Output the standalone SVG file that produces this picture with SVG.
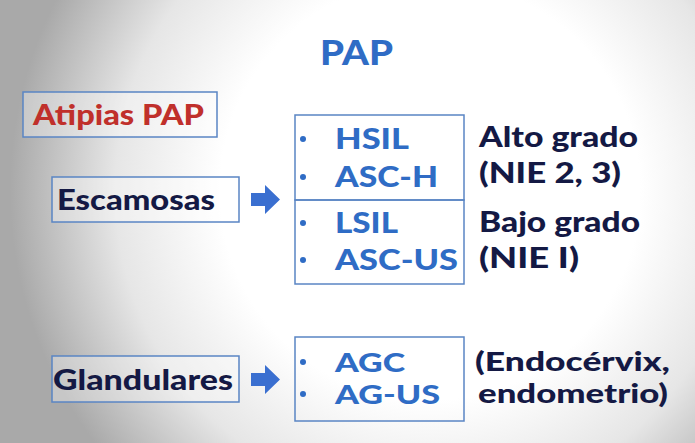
<svg xmlns="http://www.w3.org/2000/svg" width="695" height="443" viewBox="0 0 695 443">
  <defs>
    <radialGradient id="bg" cx="430" cy="190" r="420" gradientUnits="userSpaceOnUse">
      <stop offset="0" stop-color="#ffffff"/>
      <stop offset="0.5" stop-color="#ffffff"/>
      <stop offset="0.75" stop-color="#e6e6e6"/>
      <stop offset="1" stop-color="#a9a9a9"/>
    </radialGradient>
    <path id="arrow" d="M0 8 H14 V0 L29 14.5 L14 29 V21 H0 Z"/>
  </defs>
  <style>
    text { font-family: Lato, "Open Sans", "DejaVu Sans", sans-serif; font-weight: 900; }
    .box { fill: none; stroke: #5a85c4; stroke-width: 1.5; }
    .wbox { fill: #ffffff; fill-opacity: 0.35; stroke: #5a85c4; stroke-width: 1.5; }
    .blue { fill: #2f6cc5; font-size: 29px; }
    .navy { fill: #141944; font-size: 29px; }
    .red { fill: #c0302b; font-size: 29px; }
    .sm { font-size: 26.5px; }
    .dot { fill: #2f6cc5; }
    .arr { fill: #3a6fd0; }
  </style>
  <rect x="0" y="0" width="695" height="443" fill="url(#bg)"/>

  <g id="title">
    <text class="blue" x="320" y="65" style="font-size:35px" textLength="73" lengthAdjust="spacingAndGlyphs">PAP</text>
  </g>

  <g id="atipias">
    <rect class="wbox" x="23" y="92" width="194" height="45"/>
    <text class="red" x="33" y="125" textLength="171" lengthAdjust="spacingAndGlyphs">Atipias PAP</text>
  </g>

  <g id="escamosas">
    <rect class="wbox" x="52" y="177" width="187" height="45"/>
    <text class="navy" x="57" y="210" textLength="158" lengthAdjust="spacingAndGlyphs">Escamosas</text>
  </g>

  <g id="glandulares">
    <rect class="wbox" x="52" y="356" width="187" height="46"/>
    <text class="navy" x="53" y="390" textLength="180" lengthAdjust="spacingAndGlyphs">Glandulares</text>
  </g>

  <g id="alto">
    <rect class="box" x="295" y="115" width="169" height="85"/>
    <circle class="dot" cx="303" cy="139" r="3"/>
    <text class="blue" x="335" y="149" textLength="74" lengthAdjust="spacingAndGlyphs">HSIL</text>
    <circle class="dot" cx="303" cy="177" r="3"/>
    <text class="blue" x="335" y="187" textLength="103" lengthAdjust="spacingAndGlyphs">ASC-H</text>
  </g>

  <g id="bajo">
    <rect class="box" x="295" y="200" width="169" height="84"/>
    <circle class="dot" cx="303" cy="223" r="3"/>
    <text class="blue" x="335" y="233" textLength="63" lengthAdjust="spacingAndGlyphs">LSIL</text>
    <circle class="dot" cx="303" cy="260" r="3"/>
    <text class="blue" x="335" y="270" textLength="123" lengthAdjust="spacingAndGlyphs">ASC-US</text>
  </g>

  <g id="agc">
    <rect class="box" x="295" y="337" width="169" height="84"/>
    <circle class="dot" cx="303" cy="362" r="3"/>
    <text class="blue sm" x="335" y="372" textLength="70" lengthAdjust="spacingAndGlyphs">AGC</text>
    <circle class="dot" cx="303" cy="394" r="3"/>
    <text class="blue sm" x="335" y="404" textLength="105" lengthAdjust="spacingAndGlyphs">AG-US</text>
  </g>

  <g id="label-alto">
    <text class="navy" x="479" y="147" textLength="159" lengthAdjust="spacingAndGlyphs">Alto grado</text>
    <text class="navy" x="479" y="183" textLength="142" lengthAdjust="spacingAndGlyphs">(NIE 2, 3)</text>
  </g>

  <g id="label-bajo">
    <text class="navy" x="479" y="232" textLength="161" lengthAdjust="spacingAndGlyphs">Bajo grado</text>
    <text class="navy" x="479" y="268" textLength="100" lengthAdjust="spacingAndGlyphs">(NIE I)</text>
  </g>

  <g id="label-glandular">
    <text class="navy sm" x="475" y="371" textLength="195" lengthAdjust="spacingAndGlyphs">(Endocérvix,</text>
    <text class="navy sm" x="478" y="403" textLength="190" lengthAdjust="spacingAndGlyphs">endometrio)</text>
  </g>

  <g id="connectors">
    <use href="#arrow" class="arr" x="251" y="185"/>
    <use href="#arrow" class="arr" x="251" y="365"/>
  </g>
</svg>
